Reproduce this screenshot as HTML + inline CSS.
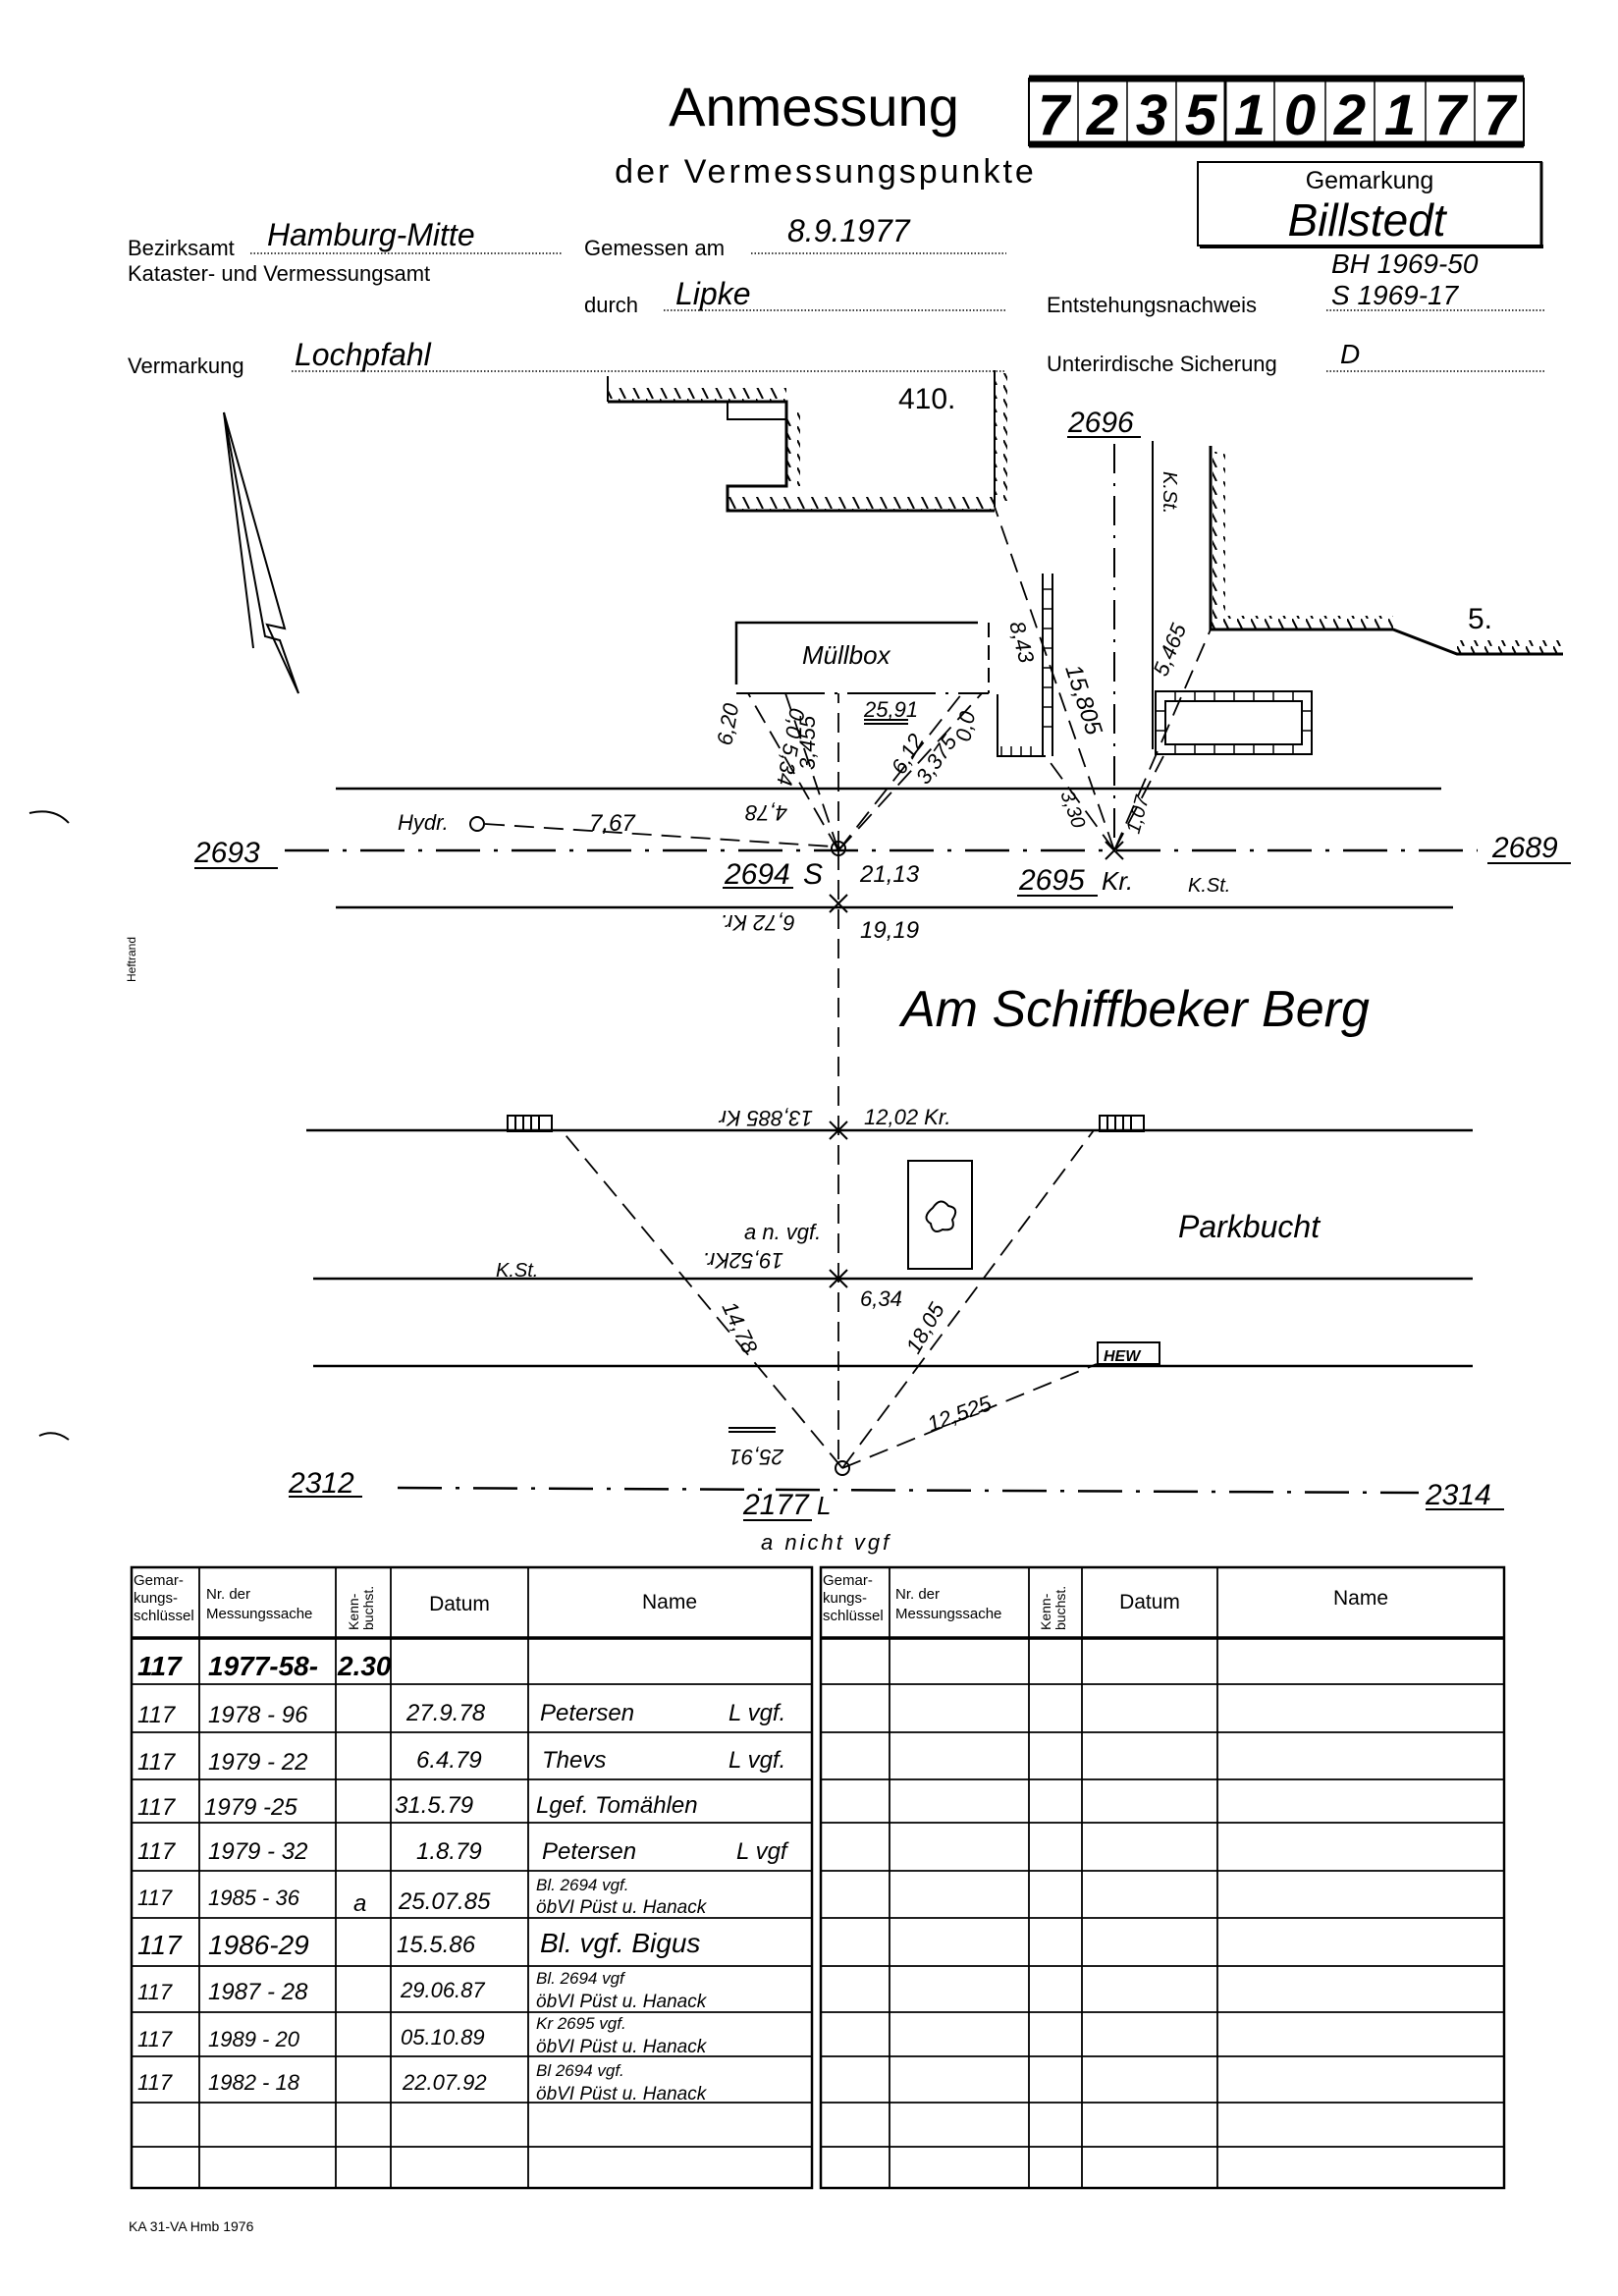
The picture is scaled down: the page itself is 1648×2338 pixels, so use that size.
<!DOCTYPE html>
<html><head><meta charset="utf-8"><style>
html,body{margin:0;padding:0;background:#fff}
svg{display:block}
.h{font-family:"Liberation Sans",sans-serif;font-style:italic;fill:#000}
.p{font-family:"Liberation Sans Narrow","Liberation Sans",sans-serif;fill:#000}
</style></head><body>
<svg width="1648" height="2338" viewBox="0 0 1648 2338" xmlns="http://www.w3.org/2000/svg">
<defs>
<pattern id="hat" width="14" height="14" patternUnits="userSpaceOnUse"><line x1="0" y1="0" x2="7" y2="14" stroke="#000" stroke-width="2"/></pattern>
</defs>
<g stroke="#000" fill="none">
<!-- code box -->
<rect x="1048" y="80" width="504" height="68" stroke-width="2"/>
<line x1="1048" y1="80" x2="1552" y2="80" stroke-width="7"/>
<line x1="1048" y1="147" x2="1552" y2="147" stroke-width="7"/>
<g stroke-width="1.5">
<line x1="1098" y1="83" x2="1098" y2="145"/><line x1="1148" y1="83" x2="1148" y2="145"/><line x1="1198" y1="83" x2="1198" y2="145"/><line x1="1248" y1="83" x2="1248" y2="145" stroke-width="3"/><line x1="1298" y1="83" x2="1298" y2="145"/><line x1="1350" y1="83" x2="1350" y2="145"/><line x1="1400" y1="83" x2="1400" y2="145"/><line x1="1452" y1="83" x2="1452" y2="145"/><line x1="1502" y1="83" x2="1502" y2="145"/>
</g>
<!-- Gemarkung box -->
<rect x="1220" y="165" width="350" height="85" stroke-width="2"/>
<line x1="1222" y1="251" x2="1572" y2="251" stroke-width="4"/>
<line x1="1570" y1="165" x2="1570" y2="252" stroke-width="3"/>
</g>
<text x="829" y="128" class="p" font-size="56" text-anchor="middle" font-family="Liberation Sans">Anmessung</text>
<g class="h" font-size="58" font-weight="bold" font-style="italic">
<text x="1073" y="137" text-anchor="middle">7</text><text x="1123" y="137" text-anchor="middle">2</text><text x="1173" y="137" text-anchor="middle">3</text><text x="1223" y="137" text-anchor="middle">5</text><text x="1273" y="137" text-anchor="middle">1</text><text x="1324" y="137" text-anchor="middle">0</text><text x="1375" y="137" text-anchor="middle">2</text><text x="1426" y="137" text-anchor="middle">1</text><text x="1477" y="137" text-anchor="middle">7</text><text x="1527" y="137" text-anchor="middle">7</text>
</g>
<text x="841" y="186" font-family="Liberation Sans" font-size="34" letter-spacing="3" text-anchor="middle">der Vermessungspunkte</text>
<text x="1395" y="192" class="p" font-size="25" text-anchor="middle">Gemarkung</text>
<text x="1392" y="240" class="h" font-size="46" text-anchor="middle">Billstedt</text>

<g class="p" font-size="22">
<text x="130" y="260">Bezirksamt</text>
<text x="130" y="286">Kataster- und Vermessungsamt</text>
<text x="595" y="260">Gemessen am</text>
<text x="595" y="318">durch</text>
<text x="1066" y="318">Entstehungsnachweis</text>
<text x="130" y="380">Vermarkung</text>
<text x="1066" y="378">Unterirdische Sicherung</text>
</g>
<g stroke="#000" stroke-width="1.5" stroke-dasharray="1.5 2">
<line x1="255" y1="258" x2="572" y2="258"/><line x1="765" y1="258" x2="1025" y2="258"/>
<line x1="676" y1="316" x2="1025" y2="316"/><line x1="1351" y1="316" x2="1574" y2="316"/>
<line x1="297" y1="378" x2="1025" y2="378"/><line x1="1351" y1="378" x2="1574" y2="378"/>
</g>
<g class="h" font-size="32">
<text x="272" y="250">Hamburg-Mitte</text>
<text x="802" y="246">8.9.1977</text>
<text x="688" y="310">Lipke</text>
<text x="300" y="372">Lochpfahl</text>
<text x="1356" y="278" font-size="28">BH 1969-50</text>
<text x="1356" y="310" font-size="28">S 1969-17</text>
<text x="1365" y="370" font-size="28">D</text>
</g>

<!-- North arrow -->
<g stroke="#000" stroke-width="2" fill="none">
<path d="M228 420 L290 640 L272 636 L304 706"/>
<path d="M228 420 L270 648 L285 652 L304 706"/>
<path d="M228 420 L258 660"/>
</g>
<text x="138" y="1000" class="p" font-size="12" transform="rotate(-90 138 1000)">Heftrand</text>
<path d="M30 828 Q55 822 70 838" stroke="#000" stroke-width="2" fill="none"/>
<path d="M40 1462 Q55 1455 70 1466" stroke="#000" stroke-width="2" fill="none"/>

<!-- buildings top -->
<g stroke="#000" stroke-width="3" fill="none">
<path d="M619 409 H801 V495 H741 V520 H1013"/>
<rect x="741" y="409" width="60" height="18" stroke-width="2"/>
<line x1="1013" y1="377" x2="1013" y2="516" stroke-width="2"/>
<line x1="619" y1="383" x2="619" y2="409" stroke-width="2"/>
<path d="M1233 454 V641 H1419 L1484 666 H1592"/>
<line x1="1135" y1="452" x2="1135" y2="866" stroke-width="2" stroke-dasharray="30 10 3 10"/>
<line x1="1174" y1="449" x2="1174" y2="763" stroke-width="2"/>
<path d="M750 697 V634 H996" stroke-width="2.5"/>
<line x1="750" y1="706" x2="1007" y2="706" stroke-width="2" stroke-dasharray="90 10 3 10"/>
<line x1="1007" y1="634" x2="1007" y2="706" stroke-width="2" stroke-dasharray="15 8"/>
<path d="M1016 707 V770 H1065" stroke-width="2"/>
<line x1="1062" y1="584" x2="1062" y2="770" stroke-width="2"/>
<line x1="1072" y1="584" x2="1072" y2="770" stroke-width="2"/>
<rect x="1177" y="704" width="159" height="64" stroke-width="2"/>
<rect x="1187" y="714" width="139" height="44" stroke-width="2"/>
</g>
<g fill="url(#hat)">
<rect x="619" y="395" width="182" height="14"/>
<rect x="801" y="420" width="14" height="75"/>
<rect x="741" y="506" width="272" height="14"/>
<rect x="1013" y="380" width="13" height="130"/>
<rect x="1235" y="460" width="13" height="175"/>
<rect x="1233" y="627" width="186" height="14"/>
<rect x="1484" y="652" width="108" height="14"/>
<rect x="1068" y="590" width="0" height="0"/>
</g>
<g stroke="#000" stroke-width="1.5">
<path d="M1062 600 h10 M1062 620 h10 M1062 640 h10 M1062 660 h10 M1062 680 h10 M1062 700 h10 M1062 720 h10 M1062 740 h10 M1020 760 v10 M1030 760 v10 M1040 760 v10 M1050 760 v10"/>
<path d="M1197 704 v10 M1217 704 v10 M1237 704 v10 M1257 704 v10 M1277 704 v10 M1297 704 v10 M1317 704 v10 M1197 758 v10 M1217 758 v10 M1237 758 v10 M1257 758 v10 M1277 758 v10 M1297 758 v10 M1317 758 v10 M1326 724 h10 M1326 744 h10 M1177 724 h10 M1177 744 h10"/>
</g>
<text x="915" y="416" class="p" font-size="30">410.</text>
<text x="1495" y="640" class="p" font-size="30">5.</text>

<!-- roads -->
<g stroke="#000" stroke-width="2.5">
<line x1="342" y1="803" x2="1468" y2="803"/>
<line x1="342" y1="924" x2="1480" y2="924"/>
<line x1="312" y1="1151" x2="1500" y2="1151"/>
<line x1="319" y1="1302" x2="1500" y2="1302"/>
<line x1="319" y1="1391" x2="1500" y2="1391"/>
</g>
<g stroke="#000" stroke-width="2.5" stroke-dasharray="45 14 4 14" fill="none">
<line x1="290" y1="866" x2="1505" y2="866"/>
<line x1="405" y1="1515" x2="1445" y2="1520"/>
</g>
<g stroke="#000" stroke-width="1.8" stroke-dasharray="20 10" fill="none">
<line x1="854" y1="866" x2="854" y2="1495"/>
<line x1="494" y1="839" x2="848" y2="862"/>
<line x1="854" y1="866" x2="762" y2="706"/>
<line x1="854" y1="866" x2="800" y2="706"/>
<line x1="854" y1="866" x2="854" y2="706"/>
<line x1="854" y1="866" x2="1000" y2="706"/>
<line x1="854" y1="866" x2="980" y2="706"/>
<line x1="1135" y1="866" x2="1013" y2="516"/>
<line x1="1135" y1="866" x2="1065" y2="770"/>
<line x1="1135" y1="866" x2="1233" y2="641"/>
<line x1="1135" y1="866" x2="1185" y2="770"/>
<line x1="858" y1="1495" x2="572" y2="1151"/>
<line x1="858" y1="1495" x2="1114" y2="1151"/>
<line x1="858" y1="1495" x2="1117" y2="1389"/>
</g>
<g stroke="#000" stroke-width="2" fill="none">
<circle cx="854" cy="864" r="7"/><circle cx="854" cy="864" r="1.5" fill="#000"/>
<circle cx="486" cy="839" r="7"/>
<circle cx="858" cy="1495" r="7"/>
<path d="M845 911 l18 18 M863 911 l-18 18"/>
<path d="M845 1142 l18 18 M863 1142 l-18 18"/>
<path d="M845 1293 l18 18 M863 1293 l-18 18"/>
<path d="M1126 857 l18 18 M1144 857 l-18 18"/>
<rect x="925" y="1182" width="65" height="110"/>
<rect x="517" y="1136" width="45" height="16"/><path d="M525 1136v16M533 1136v16M541 1136v16M549 1136v16"/>
<rect x="1120" y="1136" width="45" height="16"/><path d="M1128 1136v16M1136 1136v16M1144 1136v16M1152 1136v16"/>
<rect x="1118" y="1367" width="63" height="22"/>
<path d="M950 1230 q8 -12 16 -2 q12 2 4 14 q4 12 -10 10 q-10 6 -12 -6 q-10 -6 2 -16z"/>
</g>
<text x="1124" y="1386" class="h" font-size="16" font-weight="bold">HEW</text>

<!-- labels drawing -->
<g class="h" font-size="30">
<text x="1088" y="440">2696</text>
<text x="817" y="676" font-size="26">Müllbox</text>
<text x="880" y="730" font-size="22">25,91</text>
<text x="198" y="878">2693</text>
<text x="1520" y="873">2689</text>
<text x="405" y="845" font-size="22">Hydr.</text>
<text x="600" y="846" font-size="24">7,67</text>
<text x="738" y="900">2694</text>
<text x="818" y="900">S</text>
<text x="876" y="898" font-size="24">21,13</text>
<text x="1038" y="906">2695</text>
<text x="1122" y="906" font-size="26">Kr.</text>
<text x="1210" y="908" font-size="20">K.St.</text>
<text x="876" y="955" font-size="24">19,19</text>
<text x="918" y="1045" font-size="52">Am Schiffbeker Berg</text>
<text x="880" y="1145" font-size="22">12,02 Kr.</text>
<text x="758" y="1262" font-size="22">a n. vgf.</text>
<text x="1200" y="1260" font-size="32">Parkbucht</text>
<text x="505" y="1300" font-size="20">K.St.</text>
<text x="876" y="1330" font-size="22">6,34</text>
<text x="294" y="1520">2312</text>
<text x="1452" y="1532">2314</text>
<text x="757" y="1542">2177</text>
<text x="832" y="1542" font-size="26">L</text>
<text x="775" y="1578" font-size="22" letter-spacing="3">a nicht vgf</text>
<text x="758" y="834" font-size="22" transform="rotate(180 780 827)">4,78</text>
<text x="730" y="948" font-size="22" transform="rotate(180 770 940)">6,72 Kr.</text>
<text x="712" y="1145" font-size="22" transform="rotate(180 770 1138)">13,885 Kr</text>
<text x="738" y="1290" font-size="22" transform="rotate(180 768 1283)">19,52Kr.</text>
<text x="742" y="1490" font-size="22" transform="rotate(180 770 1483)">25,91</text>
<text x="0" y="0" font-size="22" transform="translate(745 760) rotate(-80)">6,20</text>
<text x="0" y="0" font-size="22" transform="translate(830 784) rotate(-90)">3,455</text>
<text x="0" y="0" font-size="22" transform="translate(805 720) rotate(100)">0,0 5,34</text>
<text x="0" y="0" font-size="22" transform="translate(920 790) rotate(-60)">6,12</text>
<text x="0" y="0" font-size="22" transform="translate(944 800) rotate(-55)">3,375</text>
<text x="0" y="0" font-size="22" transform="translate(988 756) rotate(-80)">0,0</text>
<text x="0" y="0" font-size="22" transform="translate(1028 635) rotate(75)">8,43</text>
<text x="0" y="0" font-size="24" transform="translate(1085 680) rotate(72)">15,805</text>
<text x="0" y="0" font-size="22" transform="translate(1188 690) rotate(-68)">5,465</text>
<text x="0" y="0" font-size="20" transform="translate(1185 480) rotate(90)">K.St.</text>
<text x="0" y="0" font-size="20" transform="translate(1080 808) rotate(70)">3,30</text>
<text x="0" y="0" font-size="20" transform="translate(1160 850) rotate(-75)">1,07</text>
<text x="0" y="0" font-size="22" transform="translate(735 1330) rotate(65)">14,78</text>
<text x="0" y="0" font-size="22" transform="translate(935 1380) rotate(-60)">18,05</text>
<text x="0" y="0" font-size="22" transform="translate(948 1458) rotate(-20)">12,525</text>
</g>
<g stroke="#000" stroke-width="2">
<path d="M1087 445 h75 M198 884 h85 M1515 879 h85 M736 904 h72 M1036 912 h82 M294 1524 h75 M1452 1537 h80 M757 1548 h70 M880 733 h45 M880 737 h45 M742 1458 h48 M742 1454 h48"/>
</g>

<!-- tables -->
<g stroke="#000" fill="none">
<rect x="134" y="1596" width="693" height="632" stroke-width="2.5"/>
<rect x="836" y="1596" width="696" height="632" stroke-width="2.5"/>
<g stroke-width="1.8">
<path d="M203 1596V2228M342 1596V2228M398 1596V2228M538 1596V2228"/>
<path d="M906 1596V2228M1048 1596V2228M1102 1596V2228M1240 1596V2228"/>
<path d="M134 1715H827M134 1764H827M134 1812H827M134 1856H827M134 1905H827M134 1953H827M134 2002H827M134 2049H827M134 2094H827M134 2141H827M134 2186H827"/>
<path d="M836 1715H1532M836 1764H1532M836 1812H1532M836 1856H1532M836 1905H1532M836 1953H1532M836 2002H1532M836 2049H1532M836 2094H1532M836 2141H1532M836 2186H1532"/>
</g>
<path d="M134 1668H827M836 1668H1532" stroke-width="3.5"/>
</g>
<g class="p" font-size="15">
<text x="136" y="1614">Gemar-</text><text x="136" y="1632">kungs-</text><text x="136" y="1650">schlüssel</text>
<text x="210" y="1628">Nr. der</text><text x="210" y="1648">Messungssache</text>
<text x="838" y="1614">Gemar-</text><text x="838" y="1632">kungs-</text><text x="838" y="1650">schlüssel</text>
<text x="912" y="1628">Nr. der</text><text x="912" y="1648">Messungssache</text>
<text x="0" y="0" font-size="14" transform="translate(365 1660) rotate(-90)">Kenn-</text>
<text x="0" y="0" font-size="14" transform="translate(380 1660) rotate(-90)">buchst.</text>
<text x="0" y="0" font-size="14" transform="translate(1070 1660) rotate(-90)">Kenn-</text>
<text x="0" y="0" font-size="14" transform="translate(1085 1660) rotate(-90)">buchst.</text>
<text x="468" y="1640" font-size="21" text-anchor="middle">Datum</text>
<text x="682" y="1638" font-size="21" text-anchor="middle">Name</text>
<text x="1171" y="1638" font-size="21" text-anchor="middle">Datum</text>
<text x="1386" y="1634" font-size="21" text-anchor="middle">Name</text>
<text x="131" y="2272" font-size="14" font-family="Liberation Sans">KA 31-VA Hmb 1976</text>
</g>
<g class="h" font-size="24">
<text x="140" y="1706" font-size="28" font-weight="bold">117</text>
<text x="212" y="1706" font-size="28" font-weight="bold">1977-58-</text>
<text x="344" y="1706" font-size="28" font-weight="bold">2.30</text>
<text x="140" y="1754">117</text><text x="212" y="1754">1978 - 96</text><text x="414" y="1752">27.9.78</text><text x="550" y="1752">Petersen</text><text x="742" y="1752">L vgf.</text>
<text x="140" y="1802">117</text><text x="212" y="1802">1979 - 22</text><text x="424" y="1800">6.4.79</text><text x="552" y="1800">Thevs</text><text x="742" y="1800">L vgf.</text>
<text x="140" y="1848">117</text><text x="208" y="1848">1979 -25</text><text x="402" y="1846">31.5.79</text><text x="546" y="1846">Lgef. Tomählen</text>
<text x="140" y="1893">117</text><text x="212" y="1893">1979 - 32</text><text x="424" y="1893">1.8.79</text><text x="552" y="1893">Petersen</text><text x="750" y="1893">L vgf</text>
<text x="140" y="1940" font-size="22">117</text><text x="212" y="1940" font-size="22">1985 - 36</text><text x="360" y="1946">a</text><text x="406" y="1944">25.07.85</text>
<text x="546" y="1925" font-size="17">Bl. 2694 vgf.</text><text x="546" y="1948" font-size="19">öbVI Püst u. Hanack</text>
<text x="140" y="1990" font-size="28">117</text><text x="212" y="1990" font-size="28">1986-29</text><text x="404" y="1988">15.5.86</text><text x="550" y="1988" font-size="28">Bl. vgf. Bigus</text>
<text x="140" y="2036" font-size="22">117</text><text x="212" y="2036">1987 - 28</text><text x="408" y="2034" font-size="22">29.06.87</text>
<text x="546" y="2020" font-size="17">Bl. 2694 vgf</text><text x="546" y="2044" font-size="19">öbVI Püst u. Hanack</text>
<text x="140" y="2084" font-size="22">117</text><text x="212" y="2084" font-size="22">1989 - 20</text><text x="408" y="2082" font-size="22">05.10.89</text>
<text x="546" y="2066" font-size="17">Kr 2695 vgf.</text><text x="546" y="2090" font-size="19">öbVI Püst u. Hanack</text>
<text x="140" y="2128" font-size="22">117</text><text x="212" y="2128" font-size="22">1982 - 18</text><text x="410" y="2128" font-size="22">22.07.92</text>
<text x="546" y="2114" font-size="17">Bl 2694 vgf.</text><text x="546" y="2138" font-size="19">öbVI Püst u. Hanack</text>
</g>
</svg>
</body></html>
